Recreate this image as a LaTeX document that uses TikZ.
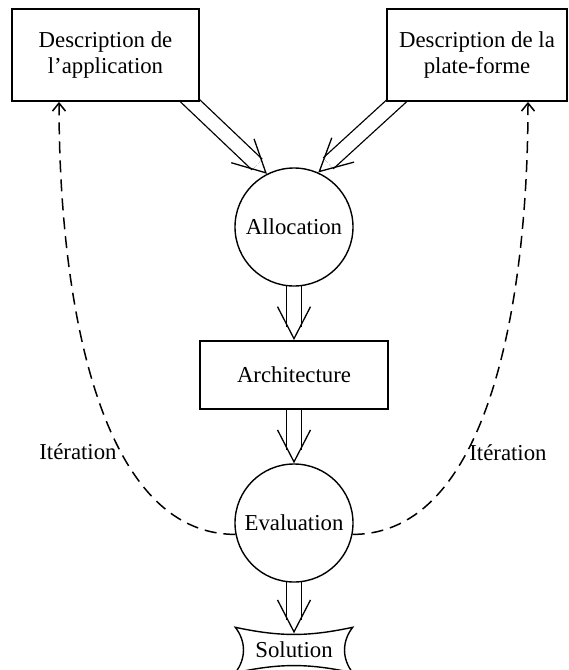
\documentclass[tikz,border=0pt]{standalone}
\usepackage{fontspec}
\setmainfont{Liberation Serif}
\usetikzlibrary{arrows.meta}
\usetikzlibrary{backgrounds}

\begin{document}
\begin{tikzpicture}[x=1pt, y=-1pt,
    font=\fontsize{22.8pt}{26pt}\selectfont,
    boite/.style={draw, rectangle, line width=1.8pt, fill=white, align=center, inner sep=0pt},
    rond/.style={draw, circle, line width=1.4pt, fill=white, minimum size=118pt, inner sep=0pt},
    fleche/.style={double, double distance=13.4pt, line width=1.3pt, shorten >=13.5pt},
    pointe/.style={draw=white, line width=1pt, -{Straight Barb[length=32pt, width=33pt, line width=1.3pt, black]}},
    iteration/.style={line width=1.5pt, dash pattern=on 12pt off 7pt, -{Straight Barb[length=8pt, width=13pt]}}]

    \useasboundingbox (0,0) rectangle (569,670);

    \node[boite, minimum width=187pt, minimum height=92pt] (app) at (105.5,55) {Description de\\l’application};
    \node[boite, minimum width=180pt, minimum height=92pt] (plat) at (477,55) {Description de la\\plate-forme};
    \node[rond] (alloc) at (294,227) {Allocation};
    \node[boite, minimum width=188pt, minimum height=68pt] (arch) at (294,375) {Architecture};
    \node[rond] (eval) at (294,523) {Evaluation};
    \node[minimum width=117pt, minimum height=45pt, inner sep=0pt] (sol) at (294,650) {Solution};
    \draw[line width=1.4pt] (sol.north west) to[bend right=12] (sol.north east)
        to[bend right=38] (sol.south east) to[bend right=12] (sol.south west)
        to[bend right=38] cycle;

    \coordinate (depg) at ([xshift=-16pt,yshift=7pt]app.south east);
    \coordinate (depd) at ([xshift=17pt,yshift=7pt]plat.south west);
    \coordinate (finsol) at ([yshift=-6pt]sol.north);

    % flux principal
    \begin{scope}[on background layer]
        \draw[fleche] (depg) -- (alloc.117);
        \draw[pointe] (depg) -- (alloc.117);
        \draw[fleche] (depd) -- (alloc.66);
        \draw[pointe] (depd) -- (alloc.66);
        \draw[fleche] (alloc.center) -- (arch.north);
        \draw[pointe] (alloc.center) -- (arch.north);
        \draw[fleche] (arch.center) -- (eval.north);
        \draw[pointe] (arch.center) -- (eval.north);
        \draw[fleche] (eval.center) -- (finsol);
        \draw[pointe] (eval.center) -- (finsol);
    \end{scope}

    % boucles
    \draw[iteration] (eval.191) .. controls +(-136,0) and +(0,200) .. ([xshift=-46.5pt]app.south);
    \draw[iteration] (eval.-11) .. controls +(136,0) and +(0,200) .. ([xshift=51pt]plat.south);

    \node (itg) at (78,452) {Itération};
    \node (itd) at (508,453) {Itération};

\end{tikzpicture}
\end{document}
